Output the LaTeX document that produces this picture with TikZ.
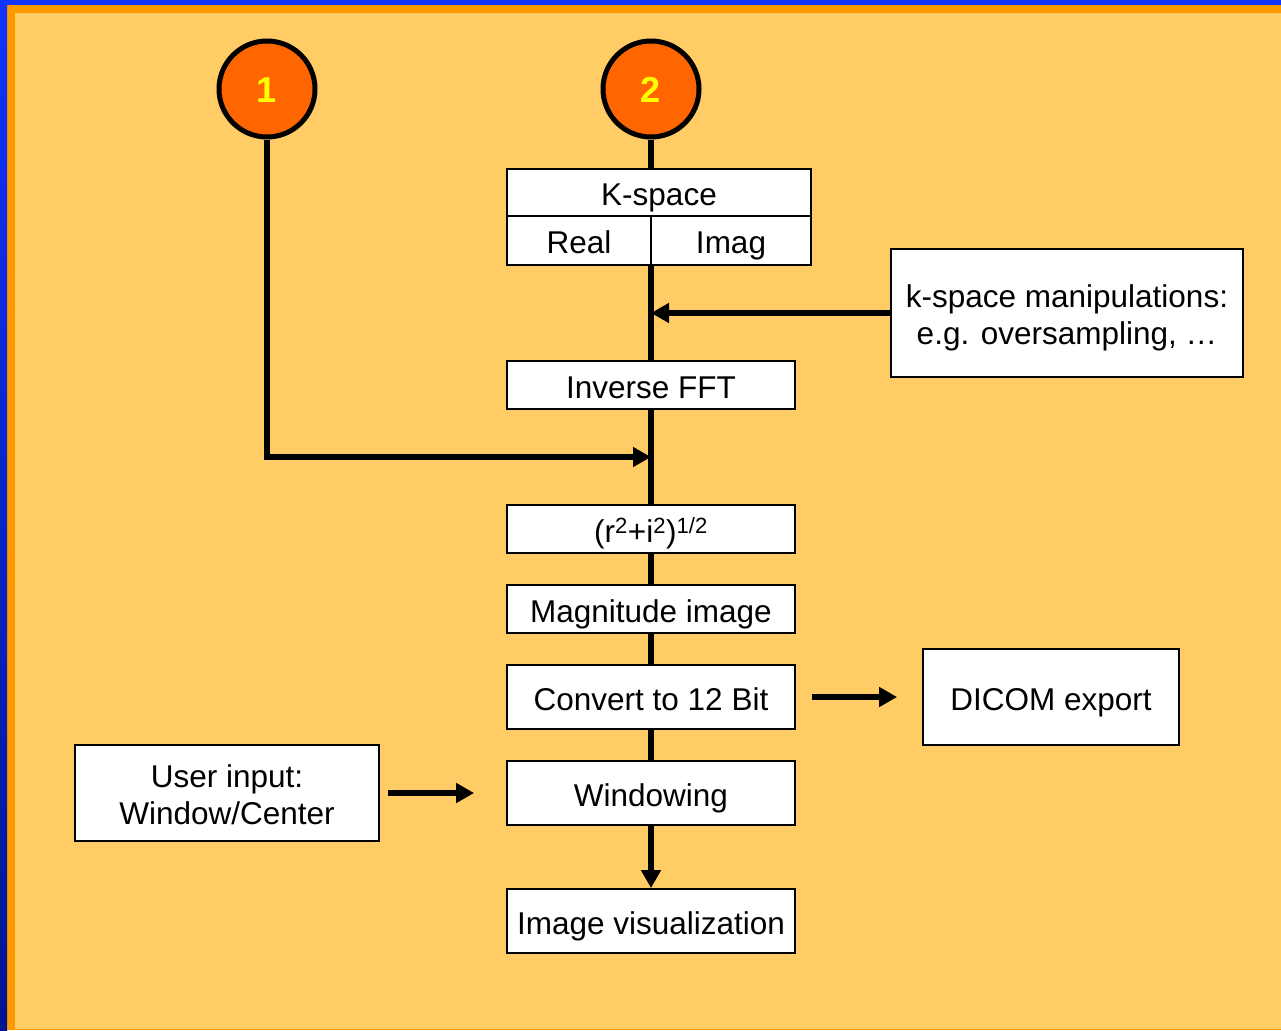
\documentclass[tikz,border=0pt]{standalone}
\usepackage{fontspec}
\setmainfont{Liberation Sans}
\usetikzlibrary{arrows.meta}
\definecolor{bgfill}{HTML}{FFCC66}
\definecolor{bandorange}{HTML}{FF9900}
\definecolor{bandblue}{HTML}{1133FF}
\definecolor{bandnavy}{HTML}{00158F}
\definecolor{circfill}{HTML}{FF6600}
\definecolor{numyellow}{HTML}{FFFF00}
\newcommand{\twolines}[2]{\begin{tabular}[b]{@{}c@{}}#1\\#2\end{tabular}}
\tikzset{
  box/.style={draw=black, line width=1.8pt, fill=white, rectangle, inner sep=0pt,
    font=\fontsize{31.5}{36.5}\selectfont, text height=26.6pt, text depth=0pt},
  box2/.style={box, text height=62.6pt, text depth=0pt},
  conn/.style={draw=black, line width=5.3pt},
  tip/.style={-{Triangle[length=18pt,width=19pt]}},
  numcirc/.style={circle, draw=black, line width=5pt, fill=circfill, minimum size=96pt,
    inner sep=0pt, text=numyellow, font=\fontsize{36}{40}\selectfont\bfseries,
    text height=27.5pt, text depth=0pt}
}
\begin{document}
\begin{tikzpicture}[x=1pt,y=-1pt]
\useasboundingbox (0,0) rectangle (1281,1030);
% background and frame
\fill[bgfill] (0,0) rectangle (1281,1030);
\fill[bandorange] (7,5) rectangle (15,1030);
\fill[bandorange] (7,5) rectangle (1281,13);
\fill[bandorange] (7,1028.5) rectangle (1281,1030);
\shade[top color=bandblue, bottom color=bandnavy] (0,0) rectangle (7,1030);
\fill[bandblue] (0,0) rectangle (1281,5);

% circles
\node[numcirc] (c1) at (267,89) {1};
\node[numcirc] (c2) at (651,89) {2};

% k-space table
\node[box, minimum width=304pt, minimum height=47pt] (ks) at (659,192.5) {K-space};
\node[box, minimum width=144pt, minimum height=49pt] (real) at (579,240.5) {Real};
\node[box, minimum width=160pt, minimum height=49pt] (imag) at (731,240.5) {Imag};

% boxes
\node[box2, minimum width=352pt, minimum height=128pt] (manip) at (1067,313) {\twolines{k-space manipulations:}{e.g. oversampling, \dots}};
\node[box, minimum width=288pt, minimum height=48pt] (ifft) at (651,385) {Inverse FFT};
\node[box, minimum width=288pt, minimum height=48pt] (root) at (651,529) {(r\textsuperscript{2}+i\textsuperscript{2})\textsuperscript{1/2}};
\node[box, minimum width=288pt, minimum height=48pt] (mag) at (651,609) {Magnitude image};
\node[box, minimum width=288pt, minimum height=64pt] (conv) at (651,697) {Convert to 12 Bit};
\node[box, minimum width=256pt, minimum height=96pt] (dicom) at (1051,697) {DICOM export};
\node[box, minimum width=288pt, minimum height=64pt] (win) at (651,793) {Windowing};
\node[box2, minimum width=304pt, minimum height=96pt] (user) at (227,793) {\twolines{User input:}{Window/Center}};
\node[box, minimum width=288pt, minimum height=64pt] (vis) at (651,921) {Image visualization};

\coordinate (j1) at (651,457);
\coordinate (j2) at (651,313);

% connectors
\draw[conn] (c2.south) -- (ks.north -| c2.south);
\draw[conn] (ifft.north |- real.south) -- (ifft.north);
\draw[conn, tip] (manip.west) -- (j2);
\draw[conn, tip] (c1.south) |- (j1);
\draw[conn] (ifft.south) -- (root.north);
\draw[conn] (root.south) -- (mag.north);
\draw[conn] (mag.south) -- (conv.north);
\draw[conn] (conv.south) -- (win.north);
\draw[conn, tip] (win.south) -- (vis.north);
\draw[conn, tip, shorten <=16pt, shorten >=25pt] (conv.east) -- (dicom.west);
\draw[conn, tip, shorten <=8pt, shorten >=32pt] (user.east) -- (win.west);
\end{tikzpicture}
\end{document}
